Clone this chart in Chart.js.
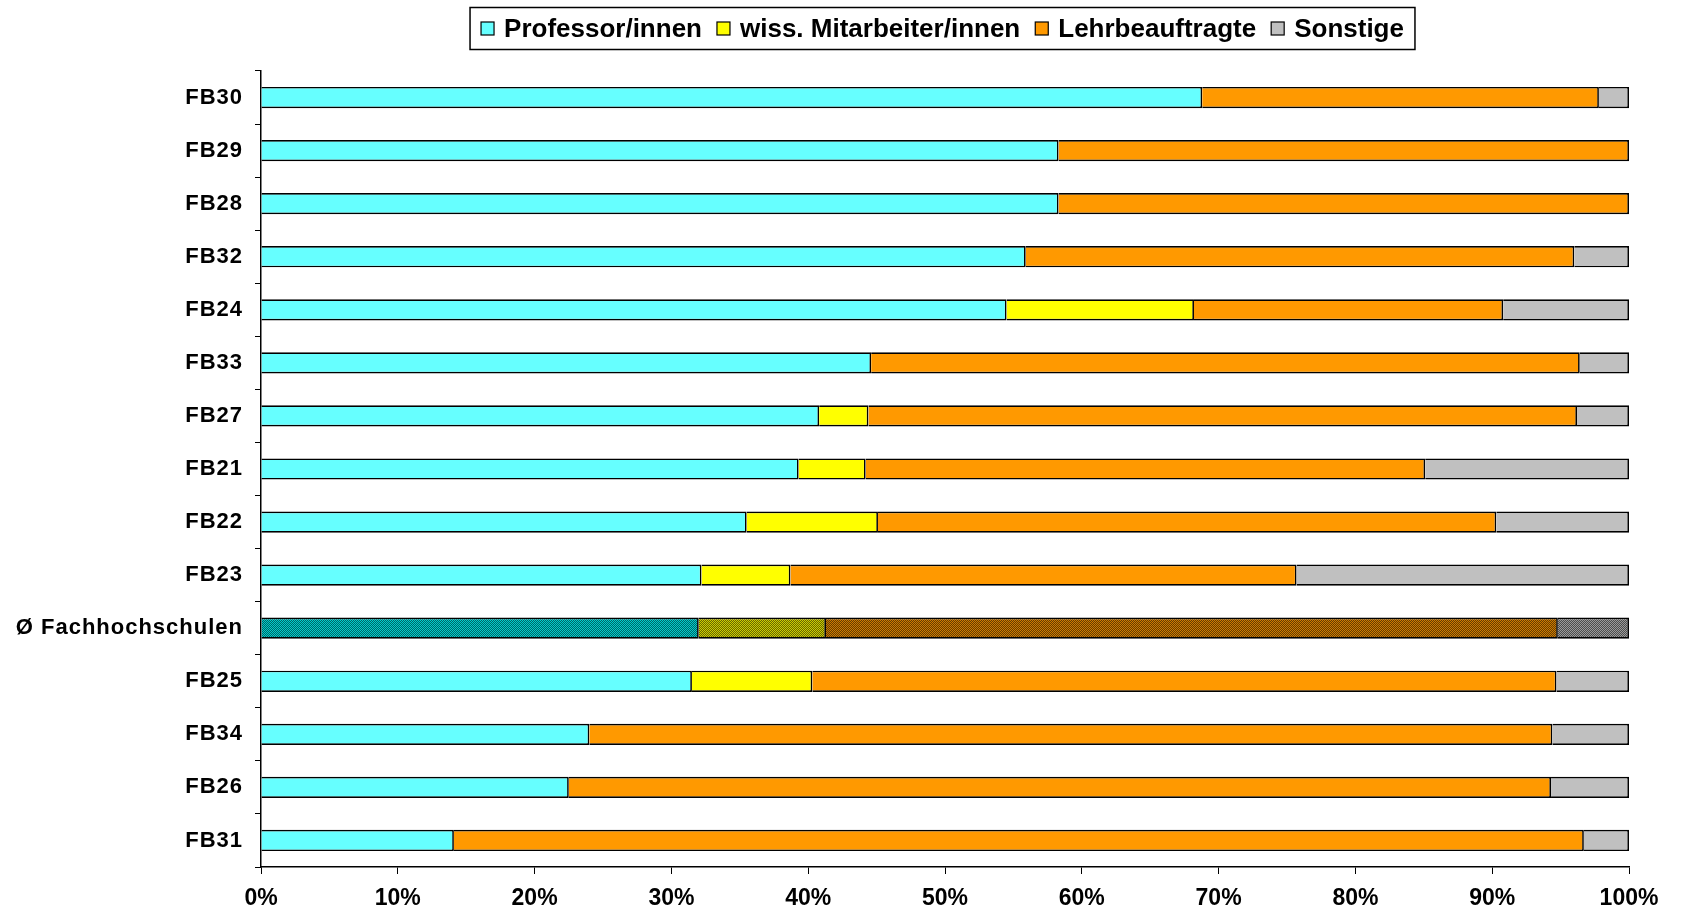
<!DOCTYPE html>
<html><head><meta charset="utf-8">
<script src="https://cdn.jsdelivr.net/npm/chart.js@4/dist/chart.umd.min.js"></script>
<style>html,body{margin:0;padding:0;background:#fff;overflow:hidden;} #wrap{width:1681px;height:915px;}</style>
</head><body><div id="wrap"><canvas id="c" width="1681" height="915"></canvas></div>
<script>
const categories = ['FB30','FB29','FB28','FB32','FB24','FB33','FB27','FB21','FB22','FB23','Ø Fachhochschulen','FB25','FB34','FB26','FB31'];
const seriesNames = ['Professor/innen','wiss. Mitarbeiter/innen','Lehrbeauftragte','Sonstige'];
const professoren     = [68.8,58.3,58.3,55.9,54.5,44.6,40.8,39.3,35.5,32.2,32.0,31.5,24.0,22.5,14.1];
const wissMitarbeiter = [0,0,0,0,13.7,0,3.6,4.9,9.6,6.5,9.3,8.8,0,0,0];
const lehrbeauftragte = [29.0,41.7,41.7,40.1,22.6,51.8,51.8,40.9,45.2,37.0,53.5,54.4,70.4,71.8,82.6];
const sonstige        = [2.2,0,0,4.0,9.2,3.6,3.8,14.9,9.7,24.3,5.2,5.3,5.6,5.7,3.3];
const xTickLabels = ['0%','10%','20%','30%','40%','50%','60%','70%','80%','90%','100%'];
const averageLabel = 'Ø Fachhochschulen';

const colors = ['#66FFFF','#FFFF00','#FF9900','#C0C0C0'];
const patternPairs = [['#00CCCC','#006666'],['#CCCC00','#666600'],['#CC7A00','#663D00'],['#9A9A9A','#4D4D4D']];
const FONT = '"Liberation Sans", Arial, sans-serif';

function makePattern(pair) {
  const c = document.createElement('canvas');
  c.width = 2; c.height = 2;
  const g = c.getContext('2d');
  g.fillStyle = pair[0]; g.fillRect(0,0,2,2);
  g.fillStyle = pair[1];
  g.fillRect(1,0,1,1); g.fillRect(0,1,1,1);
  return g.createPattern(c, 'repeat');
}
const patterns = patternPairs.map(makePattern);
const avgIndex = categories.indexOf(averageLabel);

const seriesData = [professoren, wissMitarbeiter, lehrbeauftragte, sonstige];
const datasets = seriesData.map((d, i) => ({
  label: seriesNames[i],
  data: d,
  backgroundColor: (ctx) => ctx.dataIndex === avgIndex ? patterns[i] : colors[i],
  legendColor: colors[i],
  borderColor: '#000',
  borderWidth: 1.7,
  borderSkipped: 'start',
  barPercentage: 0.4,
  categoryPercentage: 1.0
}));

const spacingPlugin = {
  id: 'ySpacing',
  beforeDraw(chart) {
    const y = chart.scales.y;
    if (y && !y._spacingPatched) {
      const orig = y.drawLabels.bind(y);
      y.drawLabels = function(area) {
        const ctx = this.ctx;
        const prev = ctx.letterSpacing;
        ctx.letterSpacing = '1px';
        orig(area);
        ctx.letterSpacing = prev || '0px';
      };
      y._spacingPatched = true;
    }
  }
};

const legendPlugin = {
  id: 'boxLegend',
  afterDraw(chart) {
    const ctx = chart.ctx;
    ctx.save();
    ctx.letterSpacing = '0px';
    ctx.font = 'bold 26px ' + FONT;
    ctx.textBaseline = 'middle';
    ctx.textAlign = 'left';
    const box = 13, gapText = 10, gapItem = 15;
    const items = chart.data.datasets.map(ds => ({ text: ds.label, color: ds.legendColor, w: ctx.measureText(ds.label).width }));
    let total = items.reduce((s, it) => s + box + gapText + it.w, 0) + gapItem * (items.length - 1);
    const cx = 942.5, cy = 28.5;
    const bw = total + 22, bh = 42;
    ctx.strokeStyle = '#000'; ctx.lineWidth = 1.5;
    ctx.fillStyle = '#fff';
    ctx.fillRect(cx - bw/2, cy - bh/2, bw, bh);
    ctx.strokeRect(cx - bw/2, cy - bh/2, bw, bh);
    let x = cx - total/2;
    items.forEach(it => {
      ctx.fillStyle = it.color;
      ctx.fillRect(x, cy - box/2, box, box);
      ctx.lineWidth = 1.2;
      ctx.strokeRect(x, cy - box/2, box, box);
      x += box + gapText;
      ctx.fillStyle = '#000';
      ctx.fillText(it.text, x, cy + 1);
      x += it.w + gapItem;
    });
    ctx.restore();
  }
};

new Chart(document.getElementById('c'), {
  type: 'bar',
  data: { labels: categories, datasets },
  options: {
    indexAxis: 'y',
    responsive: false,
    animation: false,
    devicePixelRatio: 1,
    layout: { padding: { top: 71, right: 52, bottom: 0, left: 0 } },
    plugins: { legend: { display: false }, tooltip: { enabled: false } },
    scales: {
      x: {
        stacked: true, min: 0, max: 100,
        ticks: { stepSize: 10, autoSkip: false, maxRotation: 0, padding: 11,
          color: '#000', font: { family: FONT, size: 23, weight: 'bold' },
          callback: (v, i) => xTickLabels[i] },
        grid: { drawOnChartArea: false, drawTicks: true, tickLength: 7, color: '#000', lineWidth: 1 },
        border: { display: true, color: '#000', width: 1.5 },
        afterFit: (s) => { s.height = 48; }
      },
      y: {
        stacked: true,
        ticks: { autoSkip: false, padding: 12, color: '#000', font: { family: FONT, size: 22, weight: 'bold' } },
        grid: { drawOnChartArea: false, drawTicks: true, tickLength: 6, color: '#000', lineWidth: 1, offset: true },
        border: { display: true, color: '#000', width: 1.5 },
        afterFit: (s) => { s.width = 261; }
      }
    }
  },
  plugins: [spacingPlugin, legendPlugin]
});
</script>
</body></html>
